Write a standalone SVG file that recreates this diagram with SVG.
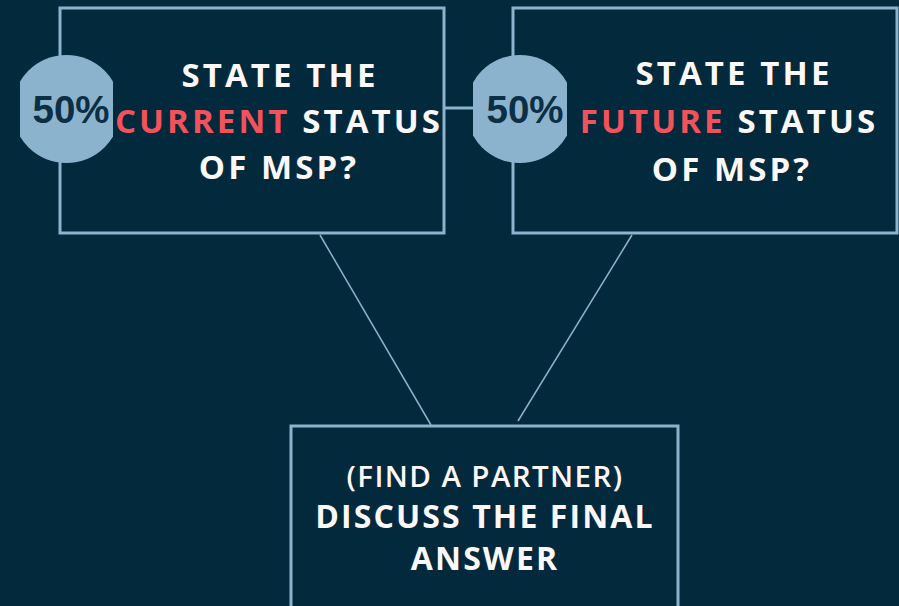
<svg xmlns="http://www.w3.org/2000/svg" width="899" height="606" viewBox="0 0 899 606">
<defs>
<style>
.box{fill:#03293d;stroke:#8cb3cd;stroke-width:3}
.badge{fill:#8cb3cd}
.pct{font-family:"Liberation Sans",Arial,sans-serif;font-weight:bold;font-size:38.5px;fill:#0b2f45;text-anchor:middle}
.t{font-family:"Open Sans","DejaVu Sans",sans-serif;font-weight:bold;font-size:33px;fill:#fdf8f8;text-anchor:middle;letter-spacing:3.1px}
.t2{font-family:"Open Sans","DejaVu Sans",sans-serif;font-weight:bold;font-size:32px;fill:#fdf8f8;text-anchor:middle;letter-spacing:2.1px}
.t3{font-family:"Open Sans","DejaVu Sans",sans-serif;font-weight:600;font-size:29.5px;fill:#fdf8f8;text-anchor:middle;letter-spacing:1.4px}
.red{fill:#f4525a}
.conn{stroke:#8cb3cd;fill:none}
</style>
<clipPath id="c1"><rect x="20" y="40" width="93" height="140"/></clipPath>
<clipPath id="c2"><rect x="473" y="40" width="94" height="140"/></clipPath>
</defs>
<rect width="899" height="606" fill="#03293d"/>
<g id="connectors">
<line class="conn" x1="444" y1="108" x2="474" y2="108" stroke-width="3"/>
<line class="conn" x1="320" y1="235" x2="431" y2="425" stroke-width="1.5"/>
<line class="conn" x1="632" y1="235" x2="518" y2="421" stroke-width="1.5"/>
</g>
<g id="node-current">
<rect class="box" x="60" y="8" width="384" height="225"/>
<circle class="badge" cx="66.5" cy="109" r="54" clip-path="url(#c1)"/>
<text class="pct" x="71" y="123">50%</text>
<text class="t" x="280" y="87">STATE THE</text>
<text class="t" x="279" y="133"><tspan class="red">CURRENT</tspan> STATUS</text>
<text class="t" x="279" y="179">OF MSP?</text>
</g>
<g id="node-future">
<rect class="box" x="513" y="8" width="384" height="225"/>
<circle class="badge" cx="520" cy="109" r="54" clip-path="url(#c2)"/>
<text class="pct" x="525" y="123">50%</text>
<text class="t" x="734" y="85">STATE THE</text>
<text class="t" x="729" y="133"><tspan class="red">FUTURE</tspan> STATUS</text>
<text class="t" x="732" y="181">OF MSP?</text>
</g>
<g id="node-discuss">
<rect class="box" x="291" y="426" width="387" height="200"/>
<text class="t3" x="485" y="487">(FIND A PARTNER)</text>
<text class="t2" x="485" y="528">DISCUSS THE FINAL</text>
<text class="t2" x="485" y="570">ANSWER</text>
</g>
</svg>
